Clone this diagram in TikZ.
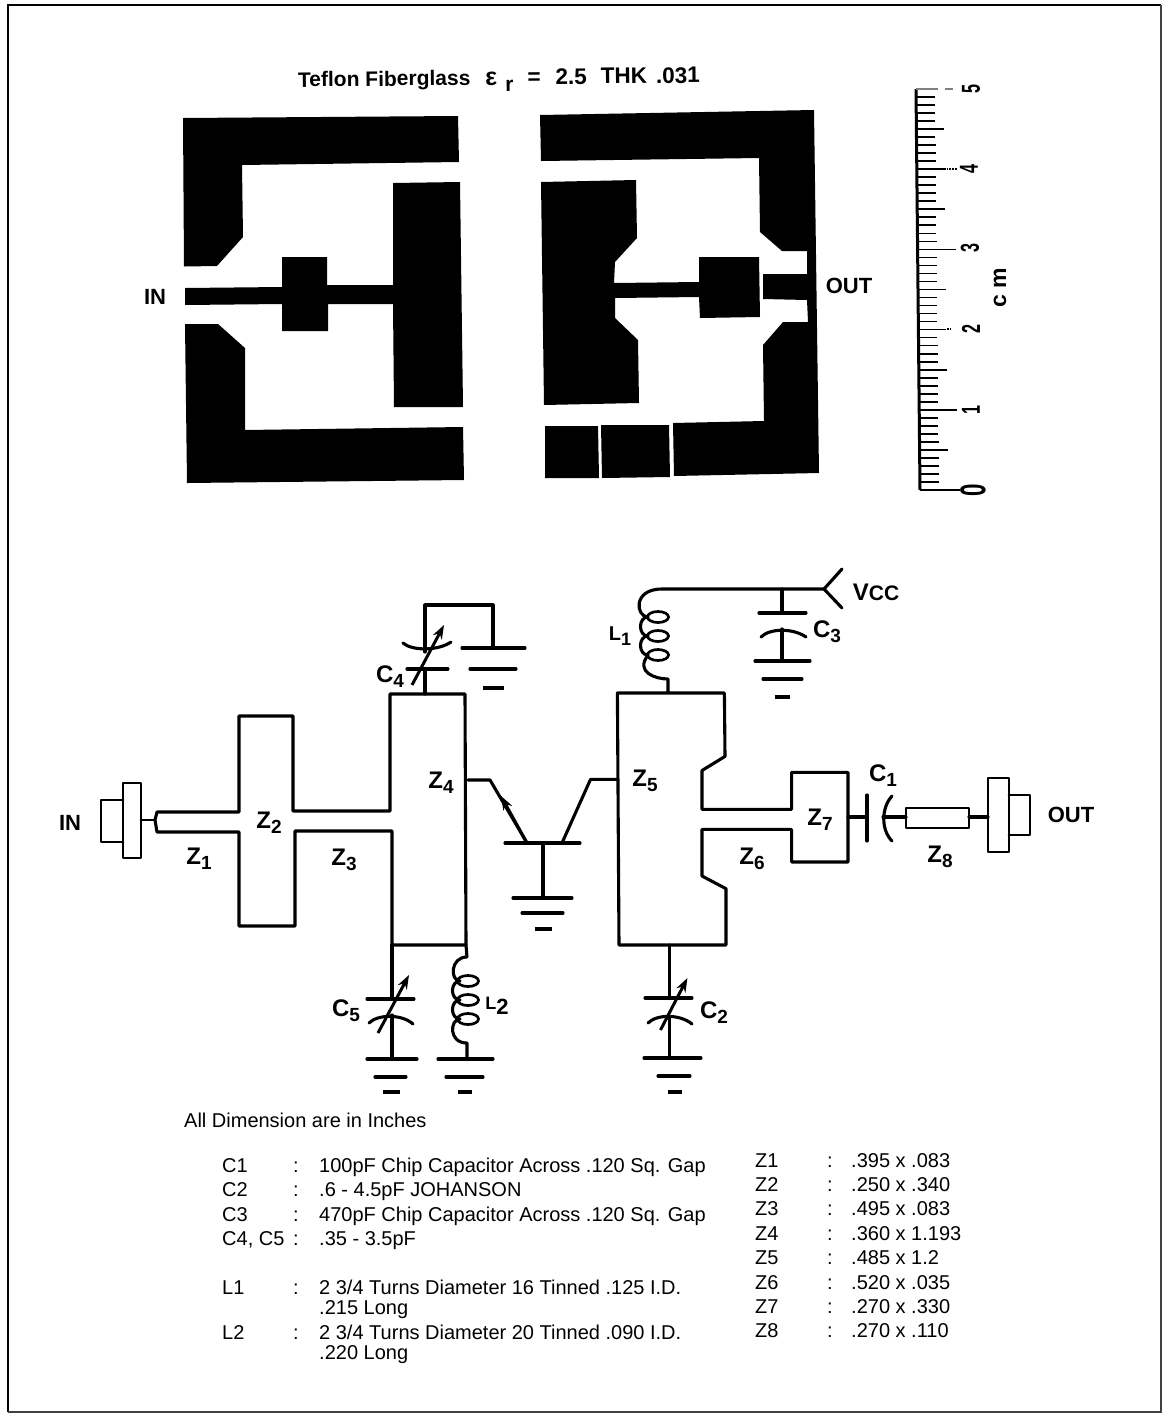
\documentclass[tikz,border=0pt]{standalone}
\usepackage{fontspec}
\setmainfont{Liberation Sans}
\usetikzlibrary{arrows.meta}
\newcommand\lsub[1]{\raisebox{-5pt}{\fontsize{19}{19}\selectfont #1}}
\newcommand\rdigit[1]{\scalebox{.62}[1]{\fontsize{26}{26}\selectfont\bfseries #1}}
\tikzset{
  x=1pt,y=-1pt,
  metal/.style={fill=black,draw=none},
  wire/.style={line width=3.1pt,line cap=round,line join=round},
  thin wire/.style={line width=2.9pt,line cap=round,line join=round},
  plate/.style={line width=3.1pt,line cap=round},
  tune/.style={line width=3pt,-{Stealth[length=14pt,width=10pt]}},
  tick/.style={line width=1.7pt},
  tbl/.style={anchor=base west,inner sep=0pt,font=\fontsize{20}{24}\selectfont},
  lab/.style={inner sep=0pt,font=\fontsize{22}{22}\selectfont\bfseries},
  zlab/.style={inner sep=0pt,font=\fontsize{24}{24}\selectfont\bfseries},
}
\newcommand\earth[8]{% x1a x1b y1 x2a x2b y2 (x3a,y3) (x3b,y3)
  \draw[plate] (#1,#3) -- (#2,#3);
  \draw[plate] (#4,#6) -- (#5,#6);
  \draw[line width=3.2pt] #7 -- #8;
}
\newcommand\loops[3]{% centre x, x radius, list of y
  \foreach \yy in {#3} \draw[line width=2.7pt] (#1,\yy) ellipse [x radius=#2,y radius=5.5];
}
\begin{document}
\begin{tikzpicture}
\useasboundingbox (0,0) rectangle (1162,1414);
% frame
\draw[line width=2.6pt] (8,1412) -- (8,5) -- (1161,5);
\draw[line width=2pt,black!75] (1161,5) -- (1161,1412) -- (8,1412);
% title
\node[anchor=base west,inner sep=0pt,rotate=0.6,font=\fontsize{21}{21}\selectfont\bfseries] (title) at (298,87)
 {Teflon Fiberglass\hspace{15pt}{\fontsize{25}{25}\selectfont ε}\hspace{8pt}\raisebox{-7pt}{r}\hspace{14pt}{\fontsize{22.5}{22}\selectfont =\hspace{15pt}2.5\hspace{14pt}THK\hspace{9pt}.031}};
% PCB left
\fill[metal] (183,118) -- (458,116) -- (459,162) -- (242,165) -- (243,237) -- (217,266) -- (184,266.5) -- cycle;
\fill[metal] (185,288) -- (282,287) -- (282,257) -- (327,257) -- (327,285) -- (393,285) -- (393,183) -- (460,182) -- (463,407) -- (394,407) -- (393,304) -- (328,304) -- (328,331) -- (282,331) -- (282,304) -- (185,305) -- cycle;
\fill[metal] (185,324) -- (218,324) -- (245,348) -- (245,430) -- (463,427) -- (464,480) -- (187,483) -- cycle;
\node[lab] (pcbin) at (155,297) {IN};
% PCB right
\fill[metal] (540,115) -- (814,110) -- (819,473) -- (674,476) -- (673,423) -- (764,421) -- (763,345) -- (783,322) -- (808,322) -- (807,300) -- (763,299) -- (763,274) -- (807,274) -- (807,251) -- (782,251) -- (760,232) -- (759,158) -- (541,161) -- cycle;
\fill[metal] (541,182) -- (636,180) -- (637,238) -- (615,262) -- (614,283) -- (699,282) -- (699,257) -- (759,257) -- (760,317) -- (700,318) -- (699,297) -- (615,298) -- (615,318) -- (638,340) -- (639,403) -- (544,405) -- cycle;
\fill[metal] (545,426) -- (598,426) -- (599,478) -- (545,478) -- cycle;
\fill[metal] (601,425) -- (669,425) -- (670,477) -- (602,478) -- cycle;
\node[lab] (pcbout) at (849,286) {OUT};
% ruler
\coordinate (rtop) at (916,89);
\coordinate (rbot) at (920,490);
\draw[line width=3pt] (rtop) -- (rbot);
\foreach \i in {1,...,49}{
  \pgfmathsetmacro\yy{490-8.02*\i}
  \pgfmathsetmacro\xx{920-4*\i/50}
  \pgfmathtruncatemacro\h{mod(\i,5)}
  \pgfmathsetmacro\len{(\i==10 || \i==30) ? 38 : (\h==0 ? 28 : 19)}
  \draw[tick] (\xx,\yy) -- ++(\len,0);
}
\draw[tick,densely dotted] (947,329) -- (952,329);
\draw[tick,densely dotted] (944,169) -- (957,169);
\draw[tick,black!50] (rtop) -- ++(22,0);
\draw[tick,black!50] (945,89) -- (953,89);
\draw[tick] (rbot) -- (960,490);
\node[rotate=90,inner sep=0pt] (d5) at (971,89) {\rdigit{5}};
\node[rotate=90,inner sep=0pt] (d4) at (969,169) {\rdigit{4}};
\node[rotate=90,inner sep=0pt] (d3) at (970,248) {\rdigit{3}};
\node[rotate=90,inner sep=0pt] (d2) at (971,329) {\rdigit{2}};
\node[rotate=90,inner sep=0pt] (d1) at (971,410) {\rdigit{1}};
\node[rotate=90,inner sep=0pt] (d0) at (973,490) {\scalebox{.62}[1]{\fontsize{36}{36}\selectfont\bfseries 0}};
\node[rotate=90,inner sep=0pt,font=\fontsize{23}{23}\selectfont\bfseries] (cm) at (1000,288) {c m};
% schematic: IN connector
\coordinate (inpin) at (141,820);
\coordinate (zin) at (155,820);
\draw[thin wire] (123,783) rectangle (141,858);
\draw[thin wire] (123,800) -- (101,800) -- (101,842) -- (123,842);
\draw[thin wire] (inpin) -- (zin);
\node[lab] (inlab) at (70,823) {IN};
% Z1-Z4 outline
\draw[wire] (zin) -- (157,812) -- (239,812) -- (239,716) -- (293,716) -- (293,811) -- (390,811) -- (390,694) -- (465,694) -- (466,945) -- (392,945) -- (392,831) -- (295,831) -- (295,926) -- (239,926) -- (239,832) -- (157,832) -- cycle;
\node[zlab] (z1) at (199,859) {Z\lsub{1}};
\node[zlab] (z2) at (269,823) {Z\lsub{2}};
\node[zlab] (z3) at (344,860) {Z\lsub{3}};
\node[zlab] (z4) at (441,783) {Z\lsub{4}};
% C4
\coordinate (c4b) at (425,694);
\coordinate (c4f) at (425,669);
\coordinate (c4a) at (425,652);
\coordinate (c4g) at (493,648);
\draw[wire] (c4b) -- (c4f);
\draw[plate] (407,669) -- (448,669);
\draw[plate] (403,643) .. controls (412,651) and (438,651) .. (451,642);
\draw[wire] (c4a) -- (425,605) -- (493,605) -- (c4g);
\draw[tune] (412,685) -- (444,625);
\earth{462}{525}{648}{470}{516}{669}{(483,688)}{(504,688)}
\node[zlab] (c4) at (390,677) {C\lsub{4}};
% C5
\coordinate (c5t) at (392,945);
\coordinate (c5p) at (392,999);
\coordinate (c5a) at (392,1015);
\coordinate (c5g) at (392,1059);
\draw[wire] (c5t) -- (c5p);
\draw[plate] (367,999) -- (414,999);
\draw[plate] (369,1023) .. controls (378,1014) and (402,1014) .. (413,1024);
\draw[wire] (c5a) -- (c5g);
\draw[tune] (378,1033) -- (409,975);
\earth{367}{417}{1059}{375}{406}{1077}{(383,1092)}{(400,1092)}
\node[zlab] (c5) at (346,1011) {C\lsub{5}};
% L2
\coordinate (l2t) at (466,945);
\coordinate (l2b) at (467,1059);
\draw[wire] (l2t) -- (467,957) .. controls (450,957) and (450,981) .. (460,981)
  .. controls (450,981) and (450,1000) .. (460,1000)
  .. controls (450,1000) and (450,1019) .. (460,1019)
  .. controls (450,1019) and (448,1043) .. (467,1043) -- (l2b);
\loops{468}{10.5}{981,1000,1019}
\earth{438}{493}{1059}{446}{483}{1077}{(458,1092)}{(472,1092)}
\node[inner sep=0pt,font=\bfseries] (l2) at (497,1006) {\fontsize{18}{18}\selectfont L\raisebox{-5pt}{\fontsize{22}{22}\selectfont 2}};
% transistor
\coordinate (tb) at (468,780);
\coordinate (te) at (527,843);
\coordinate (tc) at (562,843);
\coordinate (tg) at (543,898);
\draw[wire] (tb) -- (490,780) -- (te);
\draw[line width=3pt,-{Stealth[length=14pt,width=10pt]}] (te) -- (501,796);
\draw[plate] (505,843) -- (580,843);
\draw[wire] (543,843) -- (tg);
\draw[wire] (tc) -- (590.5,779.4) -- (617,779.4);
\earth{513}{572}{898}{522}{563}{913}{(535,929)}{(552,929)}
% Z5 Z6 Z7
\draw[wire] (617.4,693) -- (724.4,693) -- (725,756.4) -- (702,770.5) -- (702,809.3) -- (791.6,809.3) -- (791.6,772.3) -- (848,772.3) -- (848,862) -- (791.6,862) -- (791.6,829.4) -- (702,829.4) -- (702,876) -- (726,888.7) -- (726,945) -- (619,945) -- cycle;
\node[zlab] (z5) at (645,781) {Z\lsub{5}};
\node[zlab] (z6) at (752,859) {Z\lsub{6}};
\node[zlab] (z7) at (820,820) {Z\lsub{7}};
\node[zlab] (z8) at (940,857) {Z\lsub{8}};
% L1
\coordinate (l1t) at (668,692);
\coordinate (vcc) at (824,589);
\draw[wire] (l1t) -- (668,679) .. controls (655,679) and (635,672) .. (648,655)
  .. controls (638,655) and (638,636) .. (648,636)
  .. controls (638,636) and (638,617) .. (648,617)
  .. controls (636,617) and (632,589) .. (662,589) -- (vcc);
\loops{658}{10.5}{617,636,655}
\node[inner sep=0pt,font=\fontsize{20}{20}\selectfont\bfseries] (l1) at (620,636) {L\raisebox{-5pt}{\fontsize{18}{18}\selectfont 1}};
% VCC
\draw[wire] (842,569) -- (vcc) -- (842,608);
\node[inner sep=0pt,font=\fontsize{24}{24}\selectfont\bfseries] (vcclab) at (876,592) {V\fontsize{21}{21}\selectfont CC};
% C3
\coordinate (c3t) at (782,589);
\coordinate (c3p) at (782,613);
\coordinate (c3a) at (782,629);
\coordinate (c3g) at (782,661);
\draw[wire] (c3t) -- (c3p);
\draw[plate] (759,613) -- (806,613);
\draw[plate] (761,637) .. controls (770,628) and (793,628) .. (806,637);
\draw[wire] (c3a) -- (c3g);
\earth{755}{810}{661}{763}{802}{679}{(775,697)}{(790,697)}
\node[zlab] (c3) at (827,632) {C\lsub{3}};
% C2
\coordinate (c2t) at (669.5,945);
\coordinate (c2p) at (669.5,998);
\coordinate (c2a) at (669.5,1017);
\coordinate (c2g) at (669.5,1058);
\draw[wire] (c2t) -- (c2p);
\draw[plate] (645,998) -- (692,998);
\draw[plate] (648,1023) .. controls (657,1014) and (680,1014) .. (692,1024);
\draw[wire] (c2a) -- (c2g);
\draw[tune] (660.5,1030) -- (687.4,978);
\earth{644}{701}{1058}{658}{690}{1076}{(668,1092)}{(682,1092)}
\node[zlab] (c2) at (714,1013) {C\lsub{2}};
% C1, Z8, OUT connector
\coordinate (c1l) at (848,817);
\coordinate (c1p) at (867,817);
\coordinate (c1a) at (883,817);
\coordinate (z8l) at (906,817);
\coordinate (z8r) at (969,817);
\coordinate (outp) at (988,817);
\draw[wire] (c1l) -- (c1p);
\draw[plate] (867,795) -- (867,841);
\draw[plate] (892,796) .. controls (881,808) and (881,830) .. (892,841);
\draw[wire] (c1a) -- (z8l);
\draw[thin wire] (906,808) rectangle (969,828);
\draw[wire] (z8r) -- (outp);
\draw[thin wire] (988,778) rectangle (1009,852);
\draw[thin wire] (1009,795) -- (1030,795) -- (1030,835) -- (1009,835);
\node[zlab] (c1) at (883,776) {C\lsub{1}};
\node[lab] (outlab) at (1071,815) {OUT};
% notes
\node[tbl] (n0) at (184,1127) {All Dimension are in Inches};
\foreach \nm/\yy/\a/\b in {nc1/1172/C1/100pF Chip Capacitor Across .120 Sq. Gap,
 nc2/1196/C2/.6 - 4.5pF JOHANSON, nc3/1221/C3/470pF Chip Capacitor Across .120 Sq. Gap,
 nc4/1245/{C4, C5}/.35 - 3.5pF}{
  \node[tbl] (\nm a) at (222,\yy) {\a};
  \node[tbl] (\nm c) at (293,\yy) {:};
  \node[tbl] (\nm b) at (319,\yy) {\b};
}
\node[tbl] (nl1a) at (222,1294) {L1};
\node[tbl] (nl1c) at (293,1294) {:};
\node[tbl] (nl1b) at (319,1294) {2 3/4 Turns Diameter 16 Tinned .125 I.D.};
\node[tbl] (nl1x) at (319,1314) {.215 Long};
\node[tbl] (nl2a) at (222,1339) {L2};
\node[tbl] (nl2c) at (293,1339) {:};
\node[tbl] (nl2b) at (319,1339) {2 3/4 Turns Diameter 20 Tinned .090 I.D.};
\node[tbl] (nl2x) at (319,1359) {.220 Long};
\foreach \k/\yy/\b in {1/1167/.395 x .083,2/1191/.250 x .340,3/1215/.495 x .083,4/1240/.360 x 1.193,5/1264/.485 x 1.2,6/1289/.520 x .035,7/1313/.270 x .330,8/1337/.270 x .110}{
  \node[tbl] (zz\k a) at (755,\yy) {Z\k};
  \node[tbl] (zz\k c) at (827,\yy) {:};
  \node[tbl] (zz\k b) at (851,\yy) {\b};
}
\end{tikzpicture}
\end{document}
